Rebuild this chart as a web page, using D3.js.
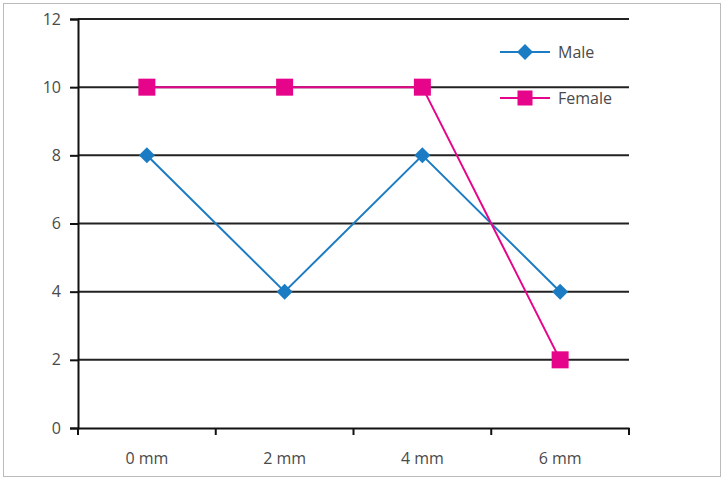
<!DOCTYPE html>
<html><head><meta charset="utf-8">
<script src="https://cdn.jsdelivr.net/npm/d3@7"></script>
<style>body{margin:0;background:#fff}text{font-family:"Open Sans",sans-serif;fill:#4a4a4a}</style>
</head><body><svg width="724" height="480"></svg>
<script>
const categories = ["0 mm","2 mm","4 mm","6 mm"];
const male = [8,4,8,4];
const female = [10,10,10,2];
const yTicks = [0,2,4,6,8,10,12];
const seriesNames = ["Male","Female"];

const svg = d3.select("svg");
svg.append("rect").attr("x",3.5).attr("y",3.5).attr("width",717).attr("height",473)
  .attr("fill","#fff").attr("stroke","#bbb").attr("stroke-width",1);
const L=78,R=629,T=19,B=428;
const x = d3.scaleBand().domain(categories).range([L,R]);
const y = d3.scaleLinear().domain([0,12]).range([B,T]);

svg.append("g").selectAll("line").data(yTicks.filter(d=>d>0)).join("line")
  .attr("x1",L).attr("x2",R).attr("y1",d=>y(d)).attr("y2",d=>y(d))
  .attr("stroke","#222").attr("stroke-width",2);

const ya = svg.append("g").attr("transform",`translate(${L},0)`)
  .call(d3.axisLeft(y).tickValues(yTicks).tickSize(8).tickPadding(9));
ya.select(".domain").attr("stroke","#111").attr("stroke-width",2);
ya.selectAll(".tick line").attr("stroke","#111").attr("stroke-width",2);
ya.selectAll("text").style("font-size","16px").attr("fill","#4a4a4a");

const xa = svg.append("g").attr("transform",`translate(0,${B})`)
  .call(d3.axisBottom(x).tickSize(0).tickPadding(25));
xa.select(".domain").attr("stroke","#111").attr("stroke-width",2);
xa.selectAll("text").style("font-size","16px").attr("fill","#4a4a4a");
svg.append("g").selectAll("line").data(categories.map((c,i)=>i===0?L:x(c)).concat([R])).join("line")
  .attr("x1",d=>d).attr("x2",d=>d).attr("y1",B).attr("y2",B+7)
  .attr("stroke","#111").attr("stroke-width",2);

const cx = c => x(c)+x.bandwidth()/2;
const blue="#1c7cc3", pink="#e6058a";
const line = d3.line().x((d,i)=>cx(categories[i])).y(d=>y(d));
svg.append("path").attr("d",line(male)).attr("fill","none").attr("stroke",blue).attr("stroke-width",2);
svg.append("path").attr("d",line(female)).attr("fill","none").attr("stroke",pink).attr("stroke-width",2);

const diamond = (g,px,py,s)=>g.append("path")
  .attr("d",`M${px},${py-s}L${px+s},${py}L${px},${py+s}L${px-s},${py}Z`).attr("fill",blue);
const square = (g,px,py,s)=>g.append("rect").attr("x",px-s).attr("y",py-s).attr("width",2*s).attr("height",2*s).attr("fill",pink);

male.forEach((v,i)=>diamond(svg,cx(categories[i]),y(v),8));
female.forEach((v,i)=>square(svg,cx(categories[i]),y(v),8.5));

const leg = [{n:seriesNames[0],c:blue,yy:52,m:"d"},{n:seriesNames[1],c:pink,yy:98,m:"s"}];
leg.forEach(d=>{
  svg.append("line").attr("x1",500).attr("x2",550).attr("y1",d.yy).attr("y2",d.yy).attr("stroke",d.c).attr("stroke-width",2);
  if(d.m==="d") diamond(svg,525,d.yy,8); else square(svg,525,d.yy,7.5);
  svg.append("text").attr("x",558).attr("y",d.yy+6).text(d.n).style("font-size","16px").attr("fill","#4a4a4a");
});
</script></body></html>
